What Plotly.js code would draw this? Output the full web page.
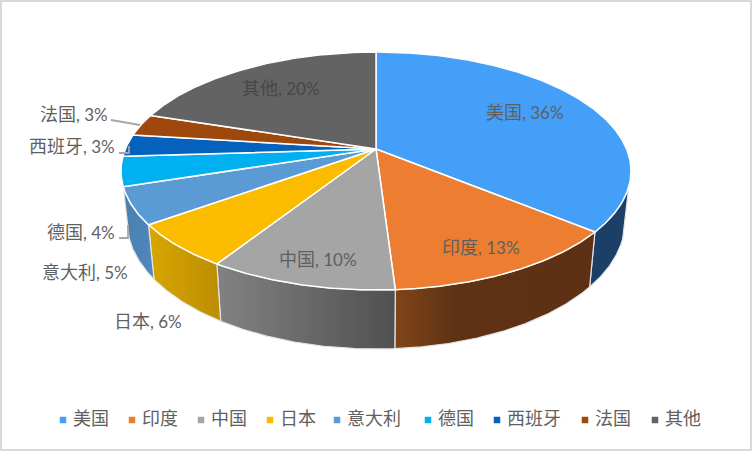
<!DOCTYPE html>
<html>
<head>
<meta charset="utf-8">
<script src="https://cdn.plot.ly/plotly-3.0.1.min.js"></script>
<style>html,body{margin:0;padding:0;background:#fff}#chart{width:752px;height:451px}</style>
</head>
<body>
<div id="chart"></div>
<script>
// ---- data ----
const categories = ['美国','印度','中国','日本','意大利','德国','西班牙','法国','其他'];
const shares     = [36,13,10,6,5,4,3,3,20];
const topColors  = ['#439FF8','#ED7D31','#A5A5A5','#FBBC00','#5B9BD5','#00B0F0','#0462BC','#9E480E','#636363'];
const wallStops  = [
  [[0,'#1B3F66'],[1,'#1B3F66']],
  [[0,'#804519'],[0.3,'#5F3214'],[1,'#5D3013']],
  [[0,'#828282'],[1,'#505050']],
  [[0,'#D8A700'],[1,'#BC8D00']],
  [[0,'#4A7FB0'],[1,'#5088BD']],
  null,null,null,null
];
// ---- label placement (page pixels) ----
const labelCentres = [[525,112],[481,247],[318,259],[148,321],[85,272],[81,232],[72,146],[74,114],[281,88]];
const legendMarkerX = [63,132,201,270,337,428,497,585,655];
const leaderLines = [
  [[111,120],[140,125]],
  [[119,238],[128,238],[128,225]],
  [[119,153],[129,153],[129,146]]
];

// ---- projection of the tilted disc ----
const apex = {x:376,y:149}, A = 250.6, B = 114.9, K = 0.185;
const depth = {sx:0.976, sy:1.069, dy:49.3};
const wallFrom = 108, wallTo = 252;
function topPoint(deg){
  const t = deg*Math.PI/180, u = Math.sin(t), v = Math.cos(t), w = 1+K*v;
  return [apex.x + A*u/w, apex.y - B*v/w];
}
function bottomPoint(deg){
  const p = topPoint(deg);
  return [apex.x + depth.sx*(p[0]-apex.x), apex.y + depth.dy + depth.sy*(p[1]-apex.y)];
}
function arc(fn, a, b){
  const n = Math.max(2, Math.ceil(Math.abs(b-a)/0.5)), pts = [];
  for(let i=0;i<=n;i++) pts.push(fn(a+(b-a)*i/n));
  return pts;
}
function polyTrace(pts, name, extra){
  return Object.assign({
    type:'scatter', mode:'lines', name:name, showlegend:false, hoverinfo:'name',
    x:pts.map(p=>p[0]), y:pts.map(p=>p[1]), fill:'toself'
  }, extra);
}

const total = shares.reduce((s,v)=>s+v,0);
const wallTraces = [], topTraces = [];
let acc = 0;
shares.forEach((val,i)=>{
  const a = acc/total*360, b = (acc+val)/total*360;
  acc += val;
  const wa = Math.max(a,wallFrom), wb = Math.min(b,wallTo);
  if(wb>wa && wallStops[i]){
    const pts = arc(topPoint,wa,wb).concat(arc(bottomPoint,wb,wa));
    pts.push(pts[0]);
    wallTraces.push(polyTrace(pts, categories[i], {
      line:{color:'#E4E4E4',width:1.2},
      fillcolor:wallStops[i][0][1],
      fillgradient:{type:'horizontal',colorscale:wallStops[i]}
    }));
  }
  const pts = [[apex.x,apex.y]].concat(arc(topPoint,a,b));
  pts.push([apex.x,apex.y]);
  topTraces.push(polyTrace(pts, categories[i], {
    line:{color:'#FFFFFF',width:1.5}, fillcolor:topColors[i]
  }));
});

const legendTrace = {
  type:'scatter', mode:'markers', showlegend:false, hoverinfo:'skip',
  x:legendMarkerX, y:categories.map(()=>420),
  marker:{symbol:'square',size:6.5,color:topColors,line:{width:0}}
};

const fontFamily = 'Lato,"Noto Sans CJK SC",sans-serif';
const textFont = {family:fontFamily,size:17,color:'#5F5F5F'};
const big = s => '<span style="font-size:18px">'+s+'</span>';
const annotations = [];
categories.forEach((c,i)=>{
  annotations.push({x:labelCentres[i][0],y:labelCentres[i][1],xref:'x',yref:'y',showarrow:false,
    xanchor:'center',yanchor:'middle',text:big(c)+', '+shares[i]+'%',
    font:Object.assign({},textFont,i===8?{color:'#474747'}:{})});
  annotations.push({x:legendMarkerX[i]+10,y:418,xref:'x',yref:'y',showarrow:false,
    xanchor:'left',yanchor:'middle',text:big(c),xshift:-2,font:textFont});
});

const shapes = leaderLines.map(l=>({
  type:'path',xref:'x',yref:'y',
  path:l.map((p,i)=>(i?'L':'M')+p[0]+' '+p[1]).join(' '),
  line:{color:'#A6A6A6',width:1.8}
}));
shapes.push({type:'rect',xref:'x',yref:'y',x0:1,y0:1,x1:751,y1:450,line:{color:'#D9D9D9',width:2},fillcolor:'rgba(0,0,0,0)'});

Plotly.newPlot('chart', wallTraces.concat(topTraces,[legendTrace]), {
  width:752,height:451,margin:{l:0,r:0,t:0,b:0},
  paper_bgcolor:'#FFFFFF',plot_bgcolor:'#FFFFFF',showlegend:false,
  xaxis:{range:[0,752],visible:false,fixedrange:true},
  yaxis:{range:[451,0],visible:false,fixedrange:true},
  annotations:annotations,shapes:shapes,font:{family:fontFamily}
},{displayModeBar:false});
</script>
</body>
</html>
